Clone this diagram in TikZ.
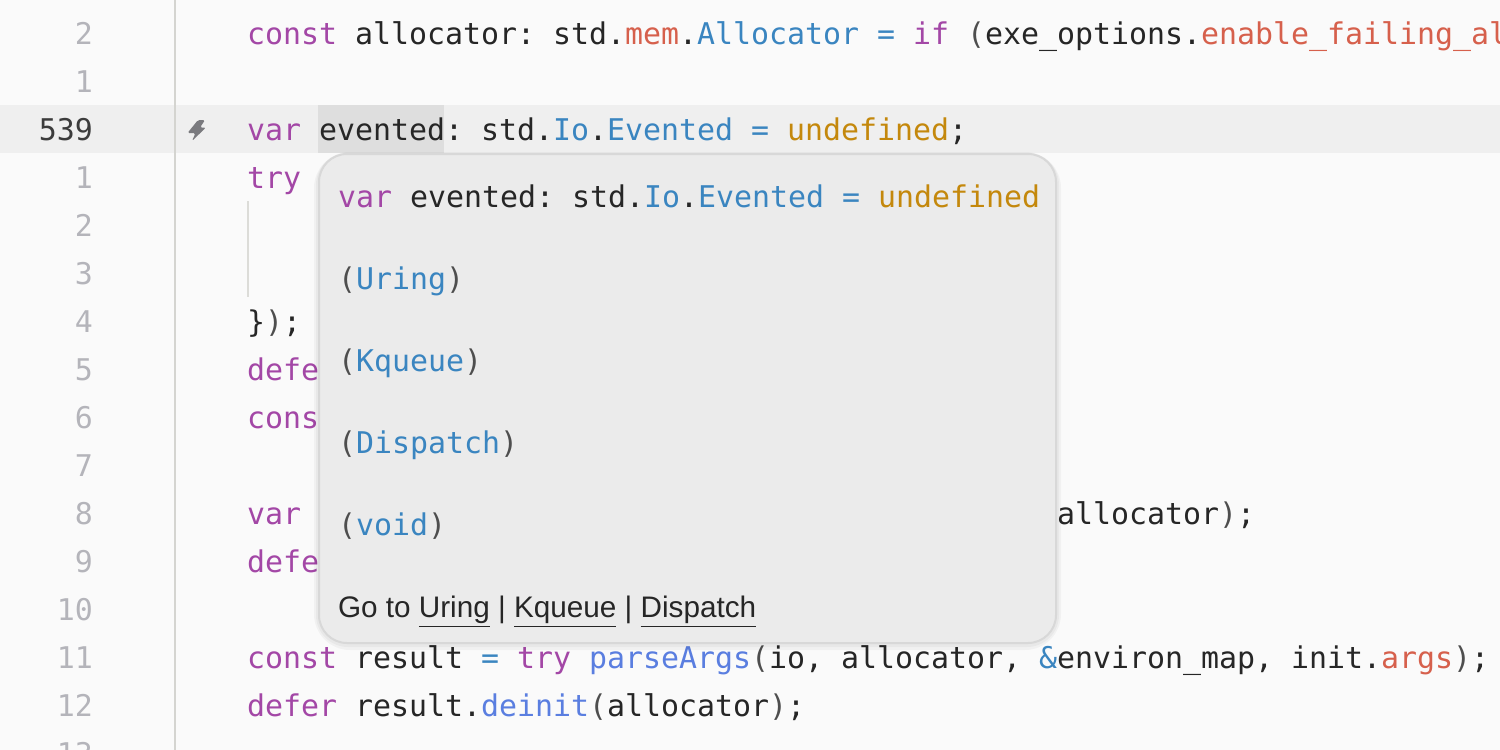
\documentclass[tikz,border=0pt]{standalone}
\usepackage{fontspec}
\setmainfont{Liberation Sans}
\newfontfamily\monofam{DejaVu Sans Mono}
\newcommand\cmono{\monofam\frenchspacing\fontsize{14.95pt}{18pt}\selectfont}
\newcommand\csans{\rmfamily\frenchspacing\fontsize{14.85pt}{18pt}\selectfont}
\frenchspacing
\definecolor{bg}{HTML}{FAFAFA}
\definecolor{rowhl}{HTML}{EFEFEF}
\definecolor{selhl}{HTML}{DEDEDE}
\definecolor{gutterc}{HTML}{D4D4D0}
\definecolor{guidec}{HTML}{DCDCD8}
\definecolor{boltc}{HTML}{7A7A7E}
\definecolor{txt}{HTML}{262626}
\definecolor{kw}{HTML}{A347A6}
\definecolor{ty}{HTML}{3A85C0}
\definecolor{fld}{HTML}{D6604C}
\definecolor{fnc}{HTML}{5A7EE0}
\definecolor{cst}{HTML}{C4880C}
\definecolor{pun}{HTML}{4E4E4E}
\definecolor{numc}{HTML}{B4B4BA}
\definecolor{numact}{HTML}{3C3C3C}
\definecolor{popfill}{HTML}{EBEBEB}
\definecolor{popborder}{HTML}{D8D8D8}
\newcommand\ckw[1]{\textcolor{kw}{#1}}
\newcommand\cty[1]{\textcolor{ty}{#1}}
\newcommand\cfd[1]{\textcolor{fld}{#1}}
\newcommand\cfn[1]{\textcolor{fnc}{#1}}
\newcommand\ccs[1]{\textcolor{cst}{#1}}
\newcommand\cpn[1]{\textcolor{pun}{#1}}
\tikzset{
  code/.style={anchor=base west, inner sep=0pt, outer sep=0pt, font=\cmono, text=txt},
  lnum/.style={anchor=base east, inner sep=0pt, outer sep=0pt, font=\cmono, text=numc},
  lnumact/.style={lnum, text=numact},
  golink/.style={anchor=base west, inner sep=0pt, outer sep=0pt, font=\csans, text=txt},
  popbox/.style={fill=popfill, draw=popborder, line width=1, rounded corners=14},
}
\begin{document}
\begin{tikzpicture}[x=0.5pt,y=-0.5pt]
\useasboundingbox (0,0) rectangle (1500,750);
\clip (0,0) rectangle (1500,750);
\fill[bg] (0,0) rectangle (1500,750);
% current line and selection
\fill[rowhl] (0,105) rectangle (1500,153);
\fill[selhl] (318,105) rectangle (444,153);
% gutter separator and indent guide
\draw[gutterc, line width=1pt] (175,0) -- (175,750);
\draw[guidec, line width=1pt] (247.5,201) -- (247.5,297);
% lightning icon
\fill[boltc, rounded corners=0.8] (198,120) -- (205,120) -- (200,127.5) -- (206,127.5) -- (192,141) -- (195.5,133) -- (187.5,133) -- cycle;
% line numbers
\node[lnum] (n1) at (93,44) {2};
\node[lnum] (n2) at (93,92) {1};
\node[lnumact] (n3) at (93,140) {539};
\node[lnum] (n4) at (93,188) {1};
\node[lnum] (n5) at (93,236) {2};
\node[lnum] (n6) at (93,284) {3};
\node[lnum] (n7) at (93,332) {4};
\node[lnum] (n8) at (93,380) {5};
\node[lnum] (n9) at (93,428) {6};
\node[lnum] (n10) at (93,476) {7};
\node[lnum] (n11) at (93,524) {8};
\node[lnum] (n12) at (93,572) {9};
\node[lnum] (n13) at (93,620) {10};
\node[lnum] (n14) at (93,668) {11};
\node[lnum] (n15) at (93,716) {12};
\node[lnum] (n16) at (93,764) {13};
% code lines
\node[code] (c1) at (247,44) {\ckw{const} allocator: std.\cfd{mem}.\cty{Allocator} \cty{=} \ckw{if} \cpn{(}exe\_options.\cfd{enable\_failing\_allocator}};
\node[code] (c3) at (247,140) {\ckw{var} evented: std.\cty{Io}.\cty{Evented} \cty{=} \ccs{undefined};};
\node[code] (c4) at (247,188) {\ckw{try}};
\node[code] (c7) at (247,332) {\}\cpn{)};};
\node[code] (c8) at (247,380) {\ckw{defer}};
\node[code] (c9) at (247,428) {\ckw{const}};
\node[code] (c11) at (247,524) {\ckw{var}};
\node[code] (c11b) at (1057,524) {allocator\cpn{)};};
\node[code] (c12) at (247,572) {\ckw{defer}};
\node[code] (c14) at (247,668) {\ckw{const} result \cty{=} \ckw{try} \cfn{parseArgs}\cpn{(}io, allocator, \cty{\&}environ\_map, init.\cfd{args}\cpn{)};};
\node[code] (c15) at (247,716) {\ckw{defer} result.\cfn{deinit}\cpn{(}allocator\cpn{)};};
% popup
\fill[black, opacity=0.035, rounded corners=18] (314,152) rectangle (1061,650);
\fill[black, opacity=0.035, rounded corners=16] (316,153) rectangle (1059,647);
\path[popbox] (319,154) rectangle (1056,643);
\node[code] (p1) at (338,207) {\ckw{var} evented: std.\cty{Io}.\cty{Evented} \cty{=} \ccs{undefined}};
\node[code] (p2) at (338,289) {\cpn{(}\cty{Uring}\cpn{)}};
\node[code] (p3) at (338,371) {\cpn{(}\cty{Kqueue}\cpn{)}};
\node[code] (p4) at (338,453) {\cpn{(}\cty{Dispatch}\cpn{)}};
\node[code] (p5) at (338,535) {\cpn{(}\cty{void}\cpn{)}};
\node[golink] (p6) at (338,617) {Go to \underline{Uring} | \underline{Kqueue} | \underline{Dispatch}};
\end{tikzpicture}
\end{document}
